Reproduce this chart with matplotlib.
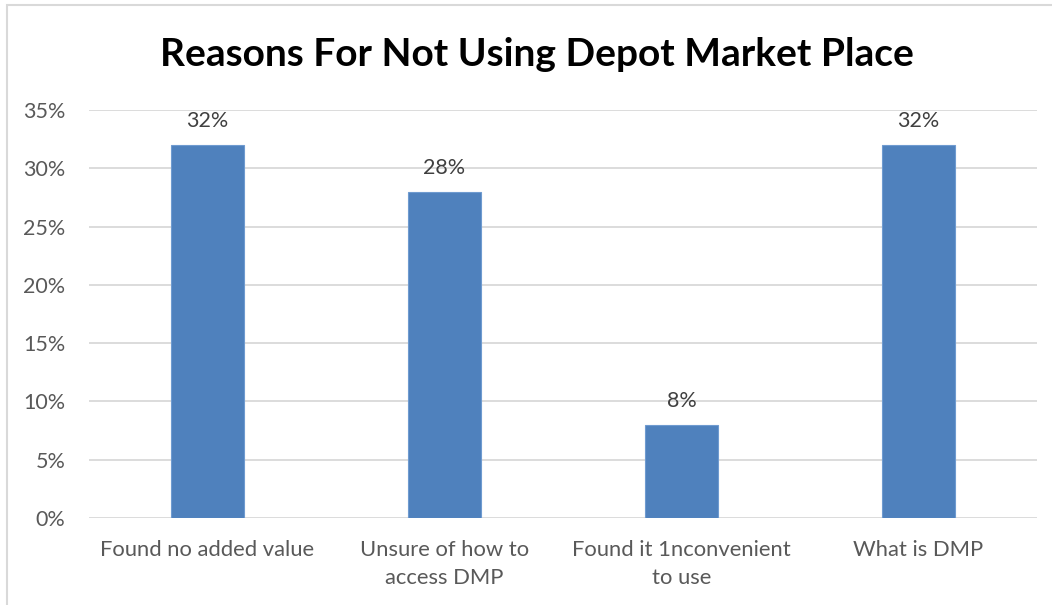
import matplotlib
matplotlib.use("Agg")
from matplotlib import pyplot as plt
from matplotlib.patches import Rectangle

categories = ["Found no added value", "Unsure of how to\naccess DMP",
              "Found it 1nconvenient\nto use", "What is DMP"]
values = [32, 28, 8, 32]
yticks = [0, 5, 10, 15, 20, 25, 30, 35]

plt.rcParams['font.family'] = ['Lato', 'DejaVu Sans']

fig = plt.figure(figsize=(10.52, 6.05), dpi=100)
ax = fig.add_axes([89/1052, 1 - 518/605, (1037 - 89)/1052, (518 - 110)/605])

x = list(range(len(categories)))
bars = ax.bar(x, values, width=0.31, color="#4F81BD", edgecolor="#6F9BD0", linewidth=0.8, zorder=3)

# value labels above bars
for xi, v in zip(x, values):
    ax.annotate("%d%%" % v, (xi, v), xytext=(0, 10), textcoords="offset points",
                ha="center", va="bottom", fontsize=15.5, color="#404040")

ax.set_xlim(-0.5, len(categories) - 0.5)
ax.set_ylim(0, 35)
ax.set_yticks(yticks)
ax.set_yticklabels(["%d%%" % t for t in yticks], fontsize=15.5, color="#595959")
ax.set_xticks(x)
ax.set_xticklabels(categories, fontsize=15.8, color="#595959", linespacing=1.5)
ax.tick_params(axis="both", length=0)
ax.tick_params(axis="y", pad=17)
ax.tick_params(axis="x", pad=16)
ax.grid(axis="y", color="#D9D9D9", linewidth=1.3, zorder=0)
for s in ax.spines.values():
    s.set_visible(False)

fig.text(537/1052, 1 - 54/605, "Reasons For Not Using Depot Market Place",
         ha="center", va="center", fontsize=28, fontweight="bold", color="black")

# chart border
fig.patches.append(Rectangle((7/1052, -0.1), 1.2, 1.1 - 5/605, transform=fig.transFigure,
                             fill=False, edgecolor="#D9D9D9", linewidth=1.5))

fig.savefig("out.png", dpi=100)
